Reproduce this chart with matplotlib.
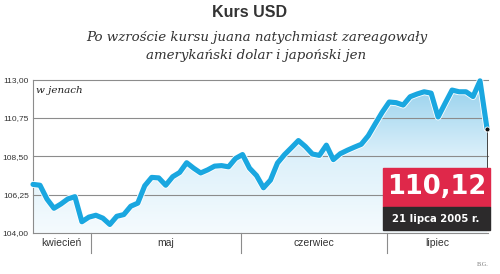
import numpy as np
import matplotlib
matplotlib.use("Agg")
import matplotlib.pyplot as plt
import matplotlib.patheffects as pe
from matplotlib.colors import LinearSegmentedColormap
from matplotlib.patches import Rectangle

# Kurs USD/JPY, kolejne sesje od ok. 20 kwietnia do 21 lipca 2005
usd_jpy = [106.85, 106.8, 105.99, 105.45, 105.7, 106.0, 106.13, 104.66, 104.93, 105.04,
           104.87, 104.5, 104.98, 105.08, 105.57, 105.75, 106.77, 107.26, 107.23, 106.8,
           107.3, 107.55, 108.12, 107.8, 107.52, 107.7, 107.92, 107.95, 107.88, 108.37,
           108.6, 107.8, 107.37, 106.65, 107.1, 108.1, 108.59, 109.0, 109.42, 109.07,
           108.63, 108.55, 109.15, 108.3, 108.65, 108.85, 109.03, 109.2, 109.7, 110.4,
           111.08, 111.68, 111.64, 111.5, 111.99, 112.15, 112.28, 112.2, 110.8, 111.6,
           112.38, 112.28, 112.28, 112.0, 112.92, 110.12]
months = ["kwiecień", "maj", "czerwiec", "lipiec"]
month_edges = [8.25, 29.75, 50.65]
y_ticks = [104.00, 106.25, 108.50, 110.75, 113.00]
y_tick_labels = ["104,00", "106,25", "108,50", "110,75", "113,00"]
last_value = "110,12"
last_date = "21 lipca 2005 r."

line_color = "#1aa7e0"
grid_color = "#8c8c8c"

fig = plt.figure(figsize=(5, 2.74), dpi=100)
ax = fig.add_axes([33 / 500, 1 - 233 / 274, 455 / 500, 153.5 / 274])

x = np.arange(len(usd_jpy))
n_last = len(usd_jpy) - 1
ax.set_xlim(0, n_last * 455 / 454)
ax.set_ylim(104, 113)

# gradient fill under the line
cmap = LinearSegmentedColormap.from_list("fill", ["#f5fbfe", "#dcf0fa", "#92cfec"])
grad = np.linspace(0, 1, 256).reshape(-1, 1)
img = ax.imshow(grad, extent=[0, n_last, 104, 113], origin="lower", aspect="auto",
                cmap=cmap, zorder=1)
poly = ax.fill_between(x, usd_jpy, 104, color="none", lw=0)
img.set_clip_path(poly.get_paths()[0], transform=ax.transData)

# grid lines
for t in y_ticks:
    ax.axhline(t, color=grid_color, lw=0.8, zorder=2, clip_on=False)

ax.plot(x, usd_jpy, color=line_color, lw=3.7, zorder=4, clip_on=False,
        solid_joinstyle="round", solid_capstyle="round",
        path_effects=[pe.Stroke(linewidth=4.9, foreground="white"), pe.Normal()])

# pointer from last value down to the box
ax.plot([n_last, n_last], [usd_jpy[-1], 104 + (233 - 167) / 153.5 * 9],
        color="#444444", lw=0.7, zorder=3, clip_on=False)
ax.plot([n_last], [usd_jpy[-1]], "o", color="#111111", ms=3.6, mec="white", mew=0.6,
        zorder=5, clip_on=False)

for s in ["top", "right", "bottom"]:
    ax.spines[s].set_visible(False)
ax.spines["left"].set_color(grid_color)
ax.spines["left"].set_linewidth(0.8)

ax.set_yticks(y_ticks)
ax.set_yticklabels(y_tick_labels, fontsize=6, family="Liberation Sans", color="#333333")
ax.tick_params(axis="y", length=0, pad=3)
ax.set_xticks([])

# month separators and labels
trans = ax.get_xaxis_transform()
for e in month_edges:
    ax.plot([e, e], [0, -0.13], transform=trans, color=grid_color, lw=0.8, clip_on=False)
bounds = [0] + month_edges + [n_last]
for i, m in enumerate(months):
    ax.text((bounds[i] + bounds[i + 1]) / 2, -0.065, m, transform=trans, ha="center",
            va="center", fontsize=7.5, family="Liberation Sans", color="#333333")

ax.text(0.006, 0.955, "w jenach", transform=ax.transAxes, ha="left", va="top",
        fontsize=7.5, family="DejaVu Serif", style="italic", color="#222222")

# titles
fig.text(0.5, 1 - 12.5 / 274, "Kurs USD", ha="center", va="center", fontsize=11.5,
         family="Liberation Sans", weight="bold", color="#333333")
fig.text(0.513, 1 - 37.5 / 274, "Po wzroście kursu juana natychmiast zareagowały",
         ha="center", va="center", fontsize=9.6, family="DejaVu Serif",
         style="italic", color="#333333")
fig.text(0.513, 1 - 56 / 274, "amerykański dolar i japoński jen",
         ha="center", va="center", fontsize=9.6, family="DejaVu Serif",
         style="italic", color="#333333")

# value box
fig.patches.append(Rectangle((382.7 / 500, 1 - 206.5 / 274), 107.3 / 500, 38.8 / 274,
                             transform=fig.transFigure, color="#df284a", zorder=5))
fig.patches.append(Rectangle((382.7 / 500, 1 - 230 / 274), 107.3 / 500, 23.5 / 274,
                             transform=fig.transFigure, color="#2c2a2b", zorder=5))
fig.text(437 / 500, 1 - 187 / 274, last_value, ha="center", va="center", fontsize=18.5,
         family="DejaVu Sans", weight="bold", color="white", zorder=6)
fig.text(436 / 500, 1 - 218.5 / 274, last_date, ha="center", va="center", fontsize=7.3,
         family="DejaVu Sans", weight="bold", color="white", zorder=6)

fig.text(489 / 500, 1 - 265 / 274, "B.G.", ha="right", va="center", fontsize=4.5,
         family="Liberation Serif", color="#777777")

fig.savefig("out.png", dpi=100)
